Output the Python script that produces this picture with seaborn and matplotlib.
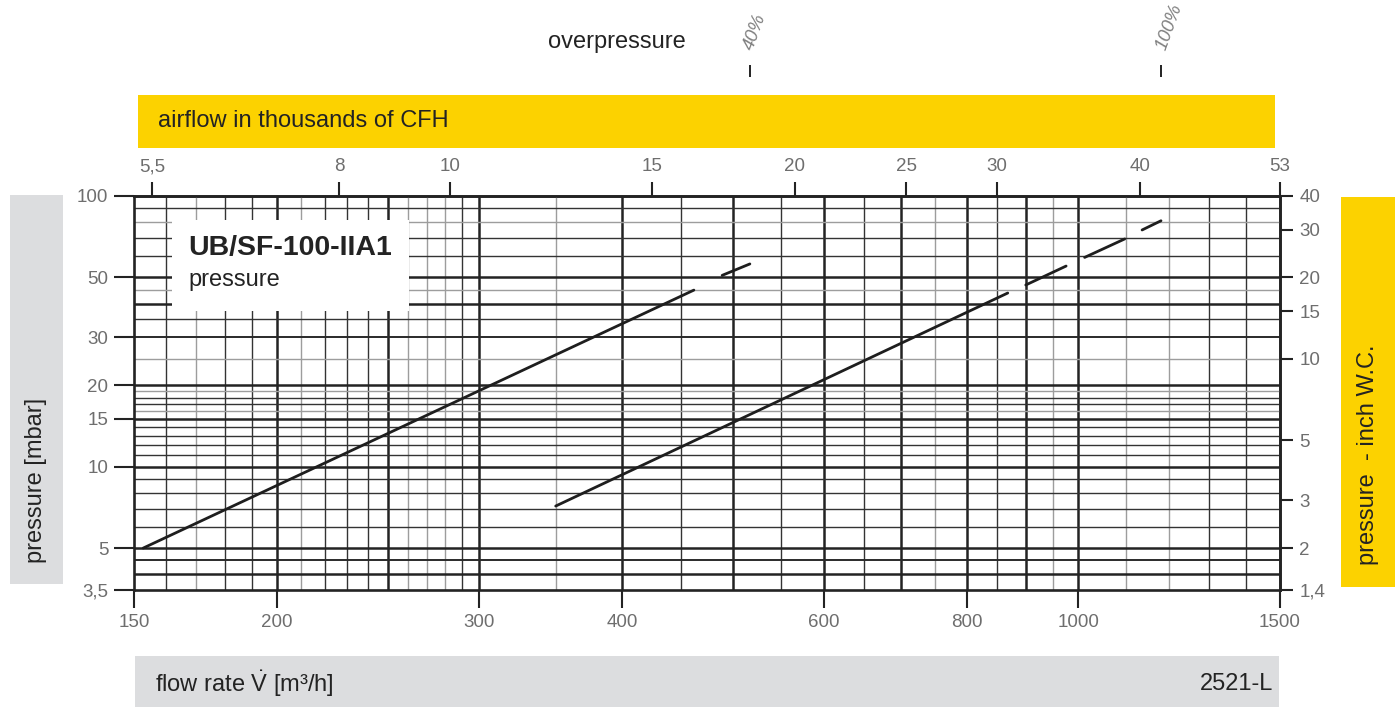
import matplotlib
matplotlib.use('Agg')
import matplotlib.pyplot as plt
import matplotlib.ticker as mticker
from matplotlib.patches import Rectangle
import seaborn as sns
import pandas as pd

# pressure curves (flow m3/h, pressure mbar); each seg is one drawn stroke
seg_id = ['a1', 'a1', 'a2', 'a2', 'b1', 'b1', 'b2', 'b2', 'b3', 'b3', 'b4', 'b4']
flow = [152.8, 462, 489, 517, 350, 868, 900, 976, 1013, 1098, 1137, 1181]
pressure = [5.0, 44.9, 50.9, 56.1, 7.15, 43.8, 46.9, 55.1, 59.3, 69.4, 74.9, 81.0]

x_ticks = [150, 200, 300, 400, 600, 800, 1000, 1500]
y_ticks = [3.5, 5, 10, 15, 20, 30, 50, 100]
cfh_ticks = [5.5, 8, 10, 15, 20, 25, 30, 40, 53]
wc_ticks = [1.4, 2, 3, 5, 10, 15, 20, 30, 40]

overpressure_flow = [517, 1181]
overpressure_labels = ['40%', '100%']

# chart paper grid
vgrid_thick = [200, 250, 300, 400, 500, 600, 700, 800, 900, 1000]
vgrid_thin = [160, 180, 190, 220, 230, 240, 290, 450, 550, 650, 850, 1300, 1400]
vgrid_gray = [170, 210, 260, 270, 280, 350, 750, 950, 1100, 1200]
hgrid_thick = [4, 5, 10, 15, 20, 40, 50]
hgrid_mid = [4.5, 30]
hgrid_thin = [6, 7, 8, 9, 11, 12, 13, 14, 17, 18, 35, 60, 70, 90]
hgrid_gray = [16, 19, 25, 45, 80]

# scale factors used by the chart (53k CFH at 1500 m3/h, 40 inch W.C. at 100 mbar)
M3H_TO_KCFH = 53 / 1500
MBAR_PER_INWC = 2.5

W, H = 1395, 707
YELLOW = '#FCD200'
GRAY_BAND = '#DCDDDF'
DARK = '#232323'
TICK_GRAY = '#6e6e6e'


def comma(v):
    return ('%g' % v).replace('.', ',')


sns.set_theme(style='white')
plt.rcParams['font.family'] = ['Liberation Sans', 'DejaVu Sans']
plt.rcParams['mathtext.fontset'] = 'custom'
plt.rcParams['mathtext.rm'] = 'Liberation Sans'

fig = plt.figure(figsize=(W / 100, H / 100), dpi=100)
ax = fig.add_axes([134 / W, 1 - 590 / H, (1280 - 134) / W, (590 - 196) / H])
ax.set_xscale('log')
ax.set_yscale('log')
ax.set_xlim(150, 1500)
ax.set_ylim(3.5, 100)

# grid
for v in vgrid_thick:
    ax.axvline(v, color=DARK, lw=1.8, zorder=1)
for v in vgrid_thin:
    ax.axvline(v, color='#333333', lw=1.0, zorder=1)
for v in vgrid_gray:
    ax.axvline(v, color='#9d9d9d', lw=1.0, zorder=1)
for h in hgrid_thick:
    ax.axhline(h, color=DARK, lw=1.8, zorder=1)
for h in hgrid_mid:
    ax.axhline(h, color='#2a2a2a', lw=1.4, zorder=1)
for h in hgrid_thin:
    ax.axhline(h, color='#333333', lw=1.0, zorder=1)
for h in hgrid_gray:
    ax.axhline(h, color='#9d9d9d', lw=1.0, zorder=1)

# curves
df = pd.DataFrame({'flow': flow, 'pressure': pressure, 'seg': seg_id})
sns.lineplot(data=df, x='flow', y='pressure', units='seg', estimator=None, sort=False,
             color='#1e1e1e', linewidth=2.0, legend=False, ax=ax, zorder=4)
ax.set_xlabel('')
ax.set_ylabel('')

# label box
ax.add_patch(Rectangle((0.0329, 0.708), 0.2073, 0.231, transform=ax.transAxes,
                       facecolor='white', edgecolor='none', zorder=2))
ax.text(0.0471, 0.868, 'UB/SF-100-IIA1', transform=ax.transAxes, fontsize=20.5,
        fontweight='bold', color=DARK, va='center', ha='left', zorder=3)
ax.text(0.0471, 0.787, 'pressure', transform=ax.transAxes, fontsize=17,
        color=DARK, va='center', ha='left', zorder=3)

for s in ax.spines.values():
    s.set_visible(True)
    s.set_color(DARK)
    s.set_linewidth(1.9)

ax.set_xticks(x_ticks, labels=[comma(v) for v in x_ticks])
ax.set_yticks(y_ticks, labels=[comma(v) for v in y_ticks])
ax.xaxis.set_minor_locator(mticker.NullLocator())
ax.yaxis.set_minor_locator(mticker.NullLocator())
ax.tick_params(axis='x', direction='out', length=13, width=1.5, color=DARK,
               labelsize=13.5, labelcolor=TICK_GRAY, pad=4, bottom=True)
ax.tick_params(axis='y', direction='out', length=14.5, width=1.5, color=DARK,
               labelsize=13.5, labelcolor=TICK_GRAY, pad=4, left=True)

# secondary scales
top = ax.secondary_xaxis('top', functions=(lambda q: q * M3H_TO_KCFH,
                                           lambda c: c / M3H_TO_KCFH))
top.set_xticks(cfh_ticks, labels=[comma(v) for v in cfh_ticks])
top.xaxis.set_minor_locator(mticker.NullLocator())
top.tick_params(axis='x', direction='out', length=10, width=1.5, color=DARK,
                labelsize=13.5, labelcolor=TICK_GRAY, pad=5)
top.spines['top'].set_linewidth(1.9)
top.spines['top'].set_color(DARK)

right = ax.secondary_yaxis('right', functions=(lambda p: p / MBAR_PER_INWC,
                                               lambda w: w * MBAR_PER_INWC))
right.set_yticks(wc_ticks, labels=[comma(v) for v in wc_ticks])
right.yaxis.set_minor_locator(mticker.NullLocator())
right.tick_params(axis='y', direction='out', length=9, width=1.5, color=DARK,
                  labelsize=13.5, labelcolor=TICK_GRAY, pad=5)
right.spines['right'].set_linewidth(1.9)
right.spines['right'].set_color(DARK)

# overpressure markers above the chart
xt = ax.get_xaxis_transform()
ax.vlines(overpressure_flow, 1.302, 1.333, transform=xt, clip_on=False, color=DARK, lw=1.4)
for q, lbl, off in zip(overpressure_flow, overpressure_labels, [(3.6, 28), (6.0, 32)]):
    ax.annotate(lbl, xy=(q, 1.317), xycoords=xt, xytext=off, textcoords='offset points',
                rotation=70, ha='center', va='center', fontsize=13.5, style='italic',
                color='#808080', annotation_clip=False)


# bands
def band(x0, y0, x1, y1, color):
    fig.add_artist(Rectangle((x0 / W, 1 - y1 / H), (x1 - x0) / W, (y1 - y0) / H,
                             transform=fig.transFigure, facecolor=color,
                             edgecolor='none', zorder=0))


band(138, 95, 1275, 148, YELLOW)
band(10, 195, 63, 584, GRAY_BAND)
band(1341, 197, 1395, 587, YELLOW)
band(135, 656, 1279, 707, GRAY_BAND)

fig.text(158 / W, 1 - 121 / H, 'airflow in thousands of CFH', fontsize=17,
         color=DARK, ha='left', va='center')
fig.text(548 / W, 1 - 42 / H, 'overpressure', fontsize=17, color=DARK,
         ha='left', va='center')
fig.text(155 / W, 1 - 684 / H, r'flow rate $\dot{\mathrm{V}}$ [m³/h]', fontsize=17,
         color=DARK, ha='left', va='center')
fig.text(1273 / W, 1 - 684 / H, '2521-L', fontsize=17, color=DARK,
         ha='right', va='center')
fig.text(36 / W, 1 - 480 / H, 'pressure [mbar]', fontsize=17, color=DARK,
         rotation=90, ha='center', va='center')
fig.text(1368 / W, 1 - 455 / H, 'pressure  - inch W.C.', fontsize=17, color=DARK,
         rotation=90, ha='center', va='center')

fig.savefig('out.png', dpi=100)
